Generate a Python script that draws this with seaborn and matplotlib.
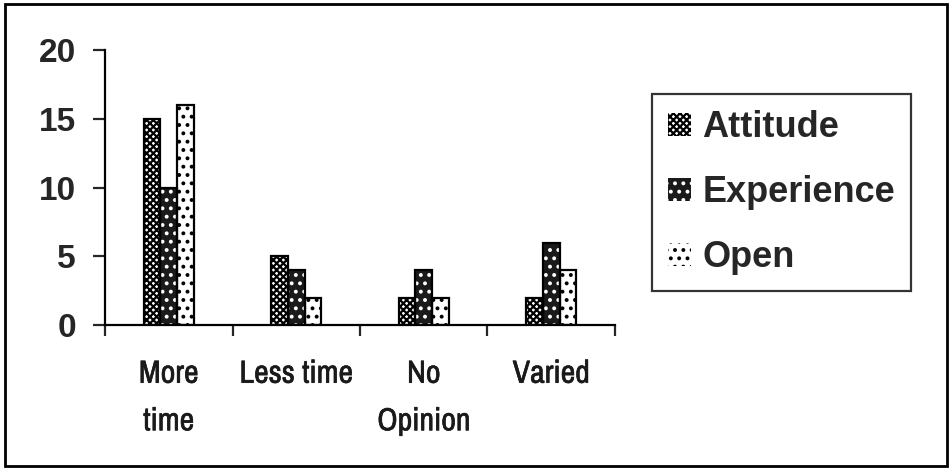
import matplotlib
matplotlib.use("Agg")
import matplotlib.pyplot as plt
import matplotlib.patheffects as pe
import seaborn as sns
import pandas as pd
from matplotlib.patches import Rectangle, Patch
from matplotlib import font_manager as fm

categories = ["More\ntime", "Less time", "No\nOpinion", "Varied"]
series = ["Attitude", "Experience", "Open"]
attitude = [15, 5, 2, 2]
experience = [10, 4, 4, 6]
open_ = [16, 2, 2, 4]
yticks = [0, 5, 10, 15, 20]

rows = []
for name, vals in zip(series, [attitude, experience, open_]):
    for c, v in zip(categories, vals):
        rows.append({"category": c, "series": name, "value": v})
df = pd.DataFrame(rows)

sns.set_theme(style="white")
plt.rcParams["font.family"] = ["Liberation Sans", "DejaVu Sans"]
plt.rcParams["hatch.linewidth"] = 1.6

names = sorted({(f.name, f.stretch) for f in fm.fontManager.ttflist})
narrow = None
for n, st in names:
    if "Narrow" in n or "Condensed" in n:
        narrow = n
        break

fig = plt.figure(figsize=(9.52, 4.70), dpi=100)
ax = fig.add_axes([105 / 952, 1 - 325 / 470, 510 / 952, 275 / 470])

sns.barplot(data=df, x="category", y="value", hue="series", order=categories,
            hue_order=series, width=0.39, gap=0, dodge=True, ax=ax, legend=False,
            saturation=1)

styles = {
    "Attitude": dict(face="white", hatchc="black", hatch="xxxxx"),
    "Experience": dict(face="#1a1a1a", hatchc="white", hatch=".."),
    "Open": dict(face="white", hatchc="black", hatch=".."),
}
for name, cont in zip(series, ax.containers):
    st = styles[name]
    for p in cont:
        p.set_facecolor(st["face"])
        p.set_edgecolor(st["hatchc"])
        p.set_hatch(st["hatch"])
        p.set_linewidth(0)
        ax.add_patch(Rectangle(p.get_xy(), p.get_width(), p.get_height(),
                               fill=False, edgecolor="black", linewidth=1.6, zorder=3))

ax.set_xlim(-0.5, len(categories) - 0.5)
ax.set_ylim(0, 20)
ax.set_yticks(yticks)
ax.set_yticklabels([str(t) for t in yticks], fontsize=24, fontweight="bold")
ax.set_xticks(range(len(categories)))
if narrow:
    xfont = dict(family=[narrow, "DejaVu Sans"])
else:
    xfont = dict(family=["DejaVu Sans"], stretch="condensed")
labels = ax.set_xticklabels(categories, fontsize=23, linespacing=1.85,
                            va="top", color="#1a1a1a", **xfont)
for t in labels:
    t.set_path_effects([pe.withStroke(linewidth=0.45, foreground="#1a1a1a")])
ax.set_xticks([i - 0.5 for i in range(len(categories) + 1)], minor=True)
ax.tick_params(axis="x", which="major", length=0, pad=25)
ax.tick_params(axis="x", which="minor", length=8, width=1.6, direction="out", bottom=True)
ax.tick_params(axis="y", length=9, width=1.6, direction="out", left=True, pad=12)
ax.set_xlabel("")
ax.set_ylabel("")
for s in ["top", "right"]:
    ax.spines[s].set_visible(False)
for s in ["left", "bottom"]:
    ax.spines[s].set_linewidth(1.6)
    ax.spines[s].set_color("black")

handles = [Patch(facecolor=styles[n]["face"], edgecolor=styles[n]["hatchc"],
                 hatch=styles[n]["hatch"], linewidth=0) for n in series]
leg = fig.legend(handles, series, loc="upper left",
                 bbox_to_anchor=(652 / 952, 1 - 94 / 470), bbox_transform=fig.transFigure,
                 borderaxespad=0, fancybox=False, frameon=True, edgecolor="black",
                 prop={"size": 26, "weight": "bold"}, handlelength=0.65, handleheight=0.6,
                 handletextpad=0.3, labelspacing=0.83, borderpad=0.44)
leg.get_frame().set_linewidth(1.6)

fig.patches.append(Rectangle((5 / 952, 4 / 470), 942 / 952, 462 / 470,
                             transform=fig.transFigure, fill=False,
                             edgecolor="black", linewidth=2))

fig.savefig("out.png", dpi=100)
